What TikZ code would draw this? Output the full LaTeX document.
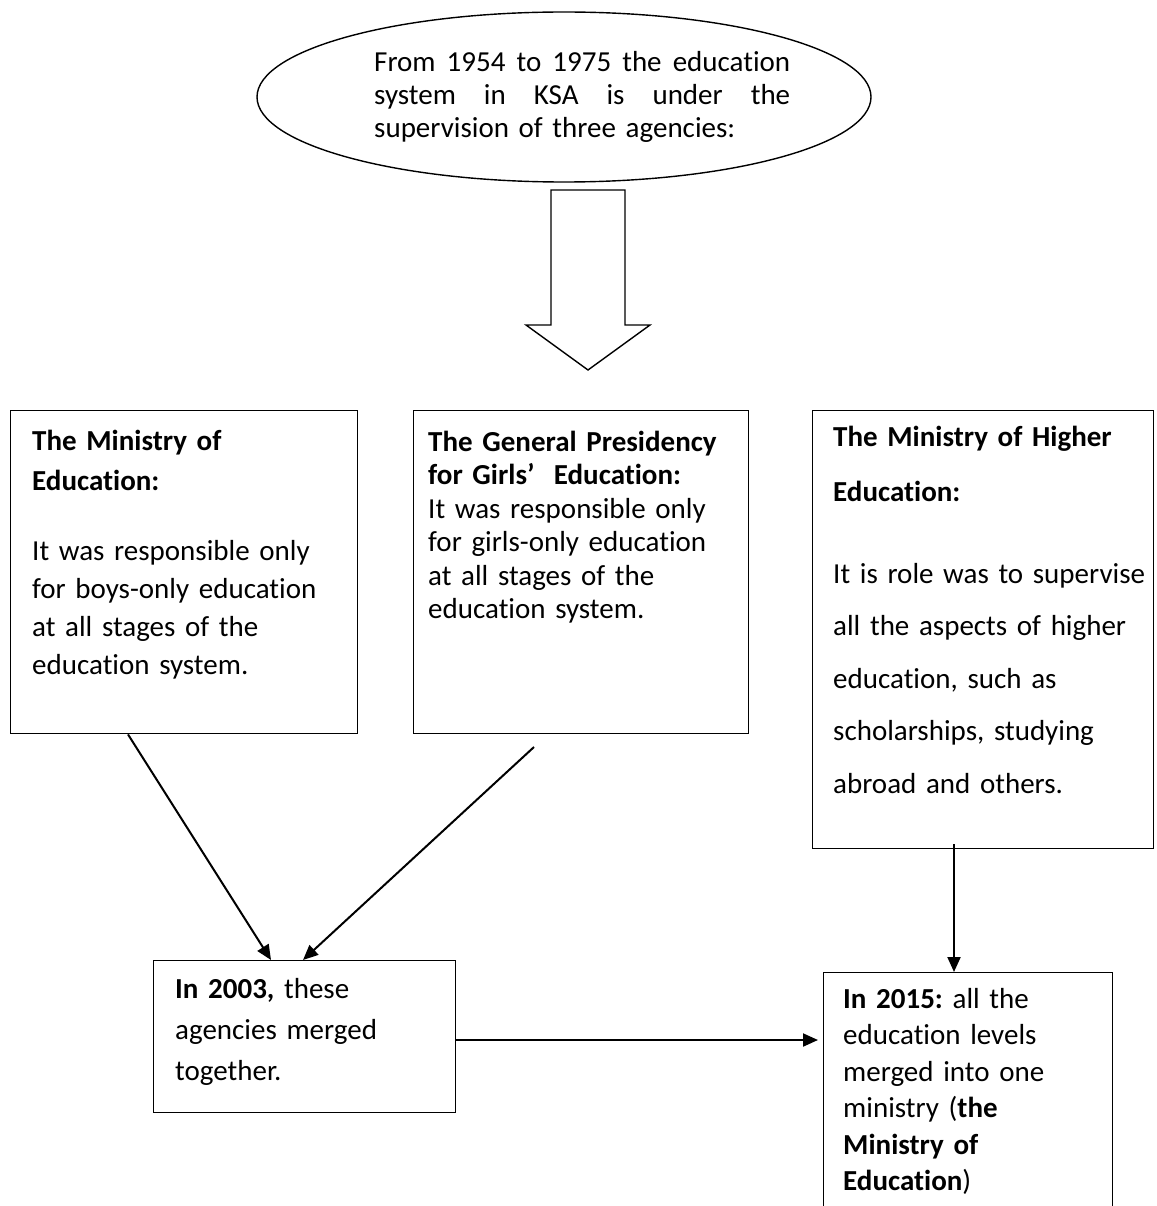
\documentclass[tikz,border=0pt]{standalone}
\usepackage{fontspec}
\setmainfont{Carlito}[Ligatures={NoCommon,NoContextual}]
\usetikzlibrary{shapes.geometric,arrows.meta,calc}
\frenchspacing
\newcommand\hs{\rule{0pt}{24pt}}
\newcommand\jline[1]{\leavevmode\hbox to 416pt{#1}}
\begin{document}
\begin{tikzpicture}[x=1pt,y=-1pt,
  box/.style={draw, line width=1.4pt, inner sep=0pt, anchor=north west},
  txt/.style={inner sep=0pt, anchor=north west, text width=335pt, align=left},
  conn/.style={line width=2pt, -{Triangle[length=15pt,width=13pt]}},
  outline/.style={line width=1.4pt, line join=miter}]
\clip (0,0) rectangle (1156,1206);
\fill[white] (0,0) rectangle (1156,1206);

% top ellipse
\node[draw, outline, ellipse, minimum width=614pt, minimum height=170pt, inner sep=0pt] (top) at (564,97) {};
\node[txt, text width=420pt, font={\fontsize{29}{33}\selectfont}] (t0) at (374,47)
  {\hs\jline{From\hfill 1954\hfill to\hfill 1975\hfill the\hfill education}\\
   \jline{system\hfill in\hfill KSA\hfill is\hfill under\hfill the}\\
   supervision of three agencies:};

% block arrow
\draw[outline] (551,190) -- (625,190) -- (625,325) -- (650,325) -- (588,370)
  -- (526,325) -- (551,325) -- cycle;

% boxes
\node[box, minimum width=347pt, minimum height=323pt] (b1) at (10,410) {};
\node[box, minimum width=335pt, minimum height=323pt] (b2) at (413,410) {};
\node[box, minimum width=341pt, minimum height=438pt] (b3) at (812,410) {};
\node[box, minimum width=302pt, minimum height=152pt] (b4) at (153,960) {};
\node[box, minimum width=289pt, minimum height=260pt] (b5) at (823,972) {};

% texts
\node[txt, font={\fontsize{29}{38}\selectfont}] (t1) at (32,426)
  {\hs\textbf{The Ministry of}\\[2pt]\textbf{Education:}\\[32pt]It was responsible only\\for boys-only education\\at all stages of the\\education system.};
\node[txt, font={\fontsize{29}{33.5}\selectfont}] (t2) at (428,427)
  {\hs\textbf{The General Presidency}\\\textbf{for Girls’\ \ Education:}\\It was responsible only\\for girls-only education\\at all stages of the\\education system.};
\node[txt, font={\fontsize{29}{52.5}\selectfont}] (t3) at (833,422)
  {\hs\textbf{The Ministry of Higher}\\[2.5pt]\textbf{Education:}\\[29.5pt]It is role was to supervise\\all the aspects of higher\\education, such as\\scholarships, studying\\abroad and others.};
\node[txt, font={\fontsize{29}{41}\selectfont}] (t4) at (175,974)
  {\hs\textbf{In 2003,} these\\agencies merged\\together.};
\node[txt, font={\fontsize{29}{36.5}\selectfont}] (t5) at (843,984)
  {\hs\textbf{In 2015:} all the\\education levels\\merged into one\\ministry (\textbf{the}\\\textbf{Ministry of}\\\textbf{Education})};

% connectors
\coordinate (c2) at (534,747);
\draw[conn] ($(b1.south west)+(118,0)$) -- ($(b4.north west)+(118,0)$);
\draw[conn] (c2) -- ($(b4.north west)+(150,0)$);
\draw[conn] ($(b3.south west)+(142,-5)$) -- ($(b5.north west)+(131,0)$);
\draw[conn] ($(b4.north east)+(0,80)$) -- ($(b5.north west)+(-5,68)$);
\end{tikzpicture}
\end{document}
